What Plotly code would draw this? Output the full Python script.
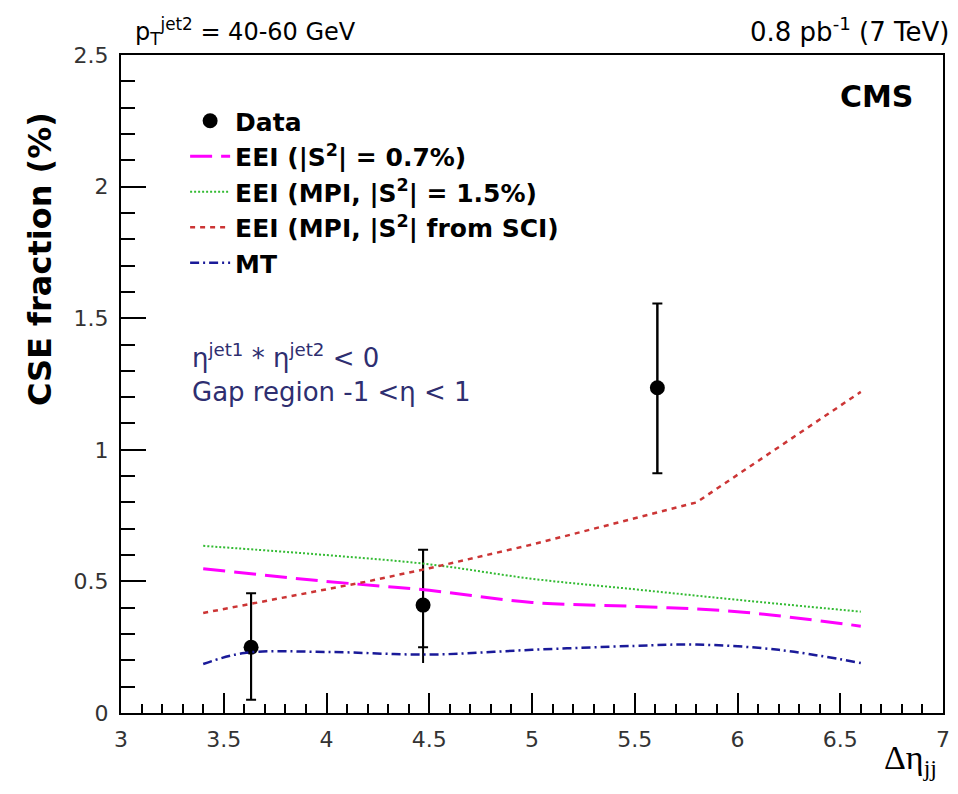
import plotly.graph_objects as go

# ---- data ----
data_x = [3.633, 4.47, 5.61]
data_y = [0.25, 0.41, 1.236]
stat_hi = [0.205, 0.21, 0.32]
stat_lo = [0.20, 0.16, 0.325]
tot_hi = [0.205, 0.21, 0.32]
tot_lo = [0.20, 0.22, 0.325]

eei07_x = [3.4, 4.0, 4.5, 5.0, 5.5, 6.0, 6.6]
eei07_y = [0.548, 0.50, 0.466, 0.42, 0.405, 0.385, 0.33]

eei15_x = [3.4, 4.0, 4.5, 5.0, 5.5, 6.0, 6.6]
eei15_y = [0.635, 0.60, 0.565, 0.51, 0.47, 0.43, 0.385]

eeisci_x = [3.4, 3.8, 4.2, 4.5, 5.0, 5.4, 5.8, 6.2, 6.6]
eeisci_y = [0.38, 0.44, 0.50, 0.55, 0.64, 0.72, 0.80, 1.01, 1.22]

mt_x = [3.4, 3.6, 4.0, 4.5, 5.0, 5.5, 5.8, 6.2, 6.6]
mt_y = [0.186, 0.228, 0.232, 0.222, 0.24, 0.255, 0.26, 0.24, 0.19]

x_ticks = [3, 3.5, 4, 4.5, 5, 5.5, 6, 6.5, 7]
x_ticklabels = ["3", "3.5", "4", "4.5", "5", "5.5", "6", "6.5", "7"]
y_ticks = [0, 0.5, 1, 1.5, 2, 2.5]
y_ticklabels = ["0", "0.5", "1", "1.5", "2", "2.5"]

FONT = "DejaVu Sans, Liberation Sans, Arial, sans-serif"

# plot-area pixel geometry in the screenshot (page has 8px body offset)
PX0, PX1, PY0, PY1 = 121, 943, 55, 713


def px(xp):
    return (xp - PX0) / (PX1 - PX0)


def py(yp):
    return (PY1 - yp) / (PY1 - PY0)


fig = go.Figure()

# total error (no caps)
fig.add_trace(go.Scatter(
    x=data_x, y=data_y, mode="markers", showlegend=False,
    marker=dict(size=1, color="black"),
    error_y=dict(type="data", symmetric=False, array=tot_hi, arrayminus=tot_lo,
                 color="black", thickness=2, width=0),
    hoverinfo="skip"))

fig.add_trace(go.Scatter(
    x=data_x, y=data_y, mode="markers", name="<b>Data</b>", legendgroup="a",
    marker=dict(size=15, color="black"),
    error_y=dict(type="data", symmetric=False, array=stat_hi, arrayminus=stat_lo,
                 color="black", thickness=2, width=5)))

fig.add_trace(go.Scatter(
    x=eei07_x, y=eei07_y, mode="lines", name="<b>EEI (|S<sup>2</sup>| = 0.7%)</b>",
    legendgroup="b", line=dict(color="#ff00ff", width=3, dash="22px,9px", shape="spline")))
fig.add_trace(go.Scatter(
    x=eei15_x, y=eei15_y, mode="lines", name="<b>EEI (MPI, |S<sup>2</sup>| = 1.5%)</b>",
    legendgroup="c", line=dict(color="#33bb33", width=2, dash="2px,2px", shape="spline")))
fig.add_trace(go.Scatter(
    x=eeisci_x, y=eeisci_y, mode="lines", name="<b>EEI (MPI, |S<sup>2</sup>| from SCI)</b>",
    legendgroup="d", line=dict(color="#cc3535", width=2.5, dash="5px,5px")))
fig.add_trace(go.Scatter(
    x=mt_x, y=mt_y, mode="lines", name="<b>MT</b>",
    legendgroup="e", line=dict(color="#1a1a99", width=2.5, dash="9px,4px,2px,4px", shape="spline")))

fig.update_layout(
    width=958, height=794,
    margin=dict(l=113, r=23, t=47, b=89),
    paper_bgcolor="white", plot_bgcolor="white",
    font=dict(family=FONT, color="black"),
    showlegend=True,
    legend=dict(x=0.078, y=py(98), xanchor="left", yanchor="top",
                bgcolor="rgba(0,0,0,0)", font=dict(size=25, color="black"),
                traceorder="grouped", tracegroupgap=0, itemwidth=40),
    xaxis=dict(range=[3, 7], tickmode="array", tickvals=x_ticks, ticktext=x_ticklabels,
               ticks="inside", ticklen=20, tickwidth=2, tickcolor="black",
               showline=True, linecolor="black", linewidth=2, mirror=True,
               showgrid=False, zeroline=False,
               tickfont=dict(size=22, color="#333333"), ticklabelstandoff=6,
               minor=dict(ticks="inside", ticklen=9, tickwidth=2, tickcolor="black", dtick=0.1, showgrid=False)),
    yaxis=dict(range=[0, 2.5], tickmode="array", tickvals=y_ticks, ticktext=y_ticklabels,
               ticks="inside", ticklen=25, tickwidth=2, tickcolor="black",
               showline=True, linecolor="black", linewidth=2, mirror=True,
               showgrid=False, zeroline=False,
               tickfont=dict(size=22, color="#333333"), ticklabelstandoff=6,
               minor=dict(ticks="inside", ticklen=14, tickwidth=2, tickcolor="black", dtick=0.1, showgrid=False)),
)

ann = []
ann.append(dict(text="<b>CSE fraction (%)</b>", textangle=-90, xref="paper", yref="paper",
                x=px(40), y=py(259), xanchor="center", yanchor="middle",
                showarrow=False, font=dict(size=32, color="black")))
ann.append(dict(text="Δη<sub>jj</sub>", xref="paper", yref="paper",
                x=px(910), y=py(760), xanchor="center", yanchor="middle",
                showarrow=False, font=dict(size=34, family="Liberation Serif, DejaVu Serif, serif", color="black")))
ann.append(dict(text="p<sub>T</sub><sup>jet2</sup> = 40-60 GeV", xref="paper", yref="paper",
                x=px(133), y=py(31), xanchor="left", yanchor="middle",
                showarrow=False, font=dict(size=24, color="black")))
ann.append(dict(text="0.8 pb<sup>-1</sup> (7 TeV)", xref="paper", yref="paper",
                x=px(951), y=py(30), xanchor="right", yanchor="middle",
                showarrow=False, font=dict(size=26, color="black")))
ann.append(dict(text="<b>CMS</b>", xref="paper", yref="paper",
                x=px(876), y=py(96), xanchor="center", yanchor="middle",
                showarrow=False, font=dict(size=30, color="black")))
ann.append(dict(text="η<sup>jet1</sup> * η<sup>jet2</sup> < 0", xref="paper", yref="paper",
                x=px(190), y=py(356), xanchor="left", yanchor="middle",
                showarrow=False, font=dict(size=26, color="#2e2e70")))
ann.append(dict(text="Gap region -1 <η < 1", xref="paper", yref="paper",
                x=px(190), y=py(392), xanchor="left", yanchor="middle",
                showarrow=False, font=dict(size=26, color="#2e2e70")))
fig.update_layout(annotations=ann)

fig.write_html("out.html")
